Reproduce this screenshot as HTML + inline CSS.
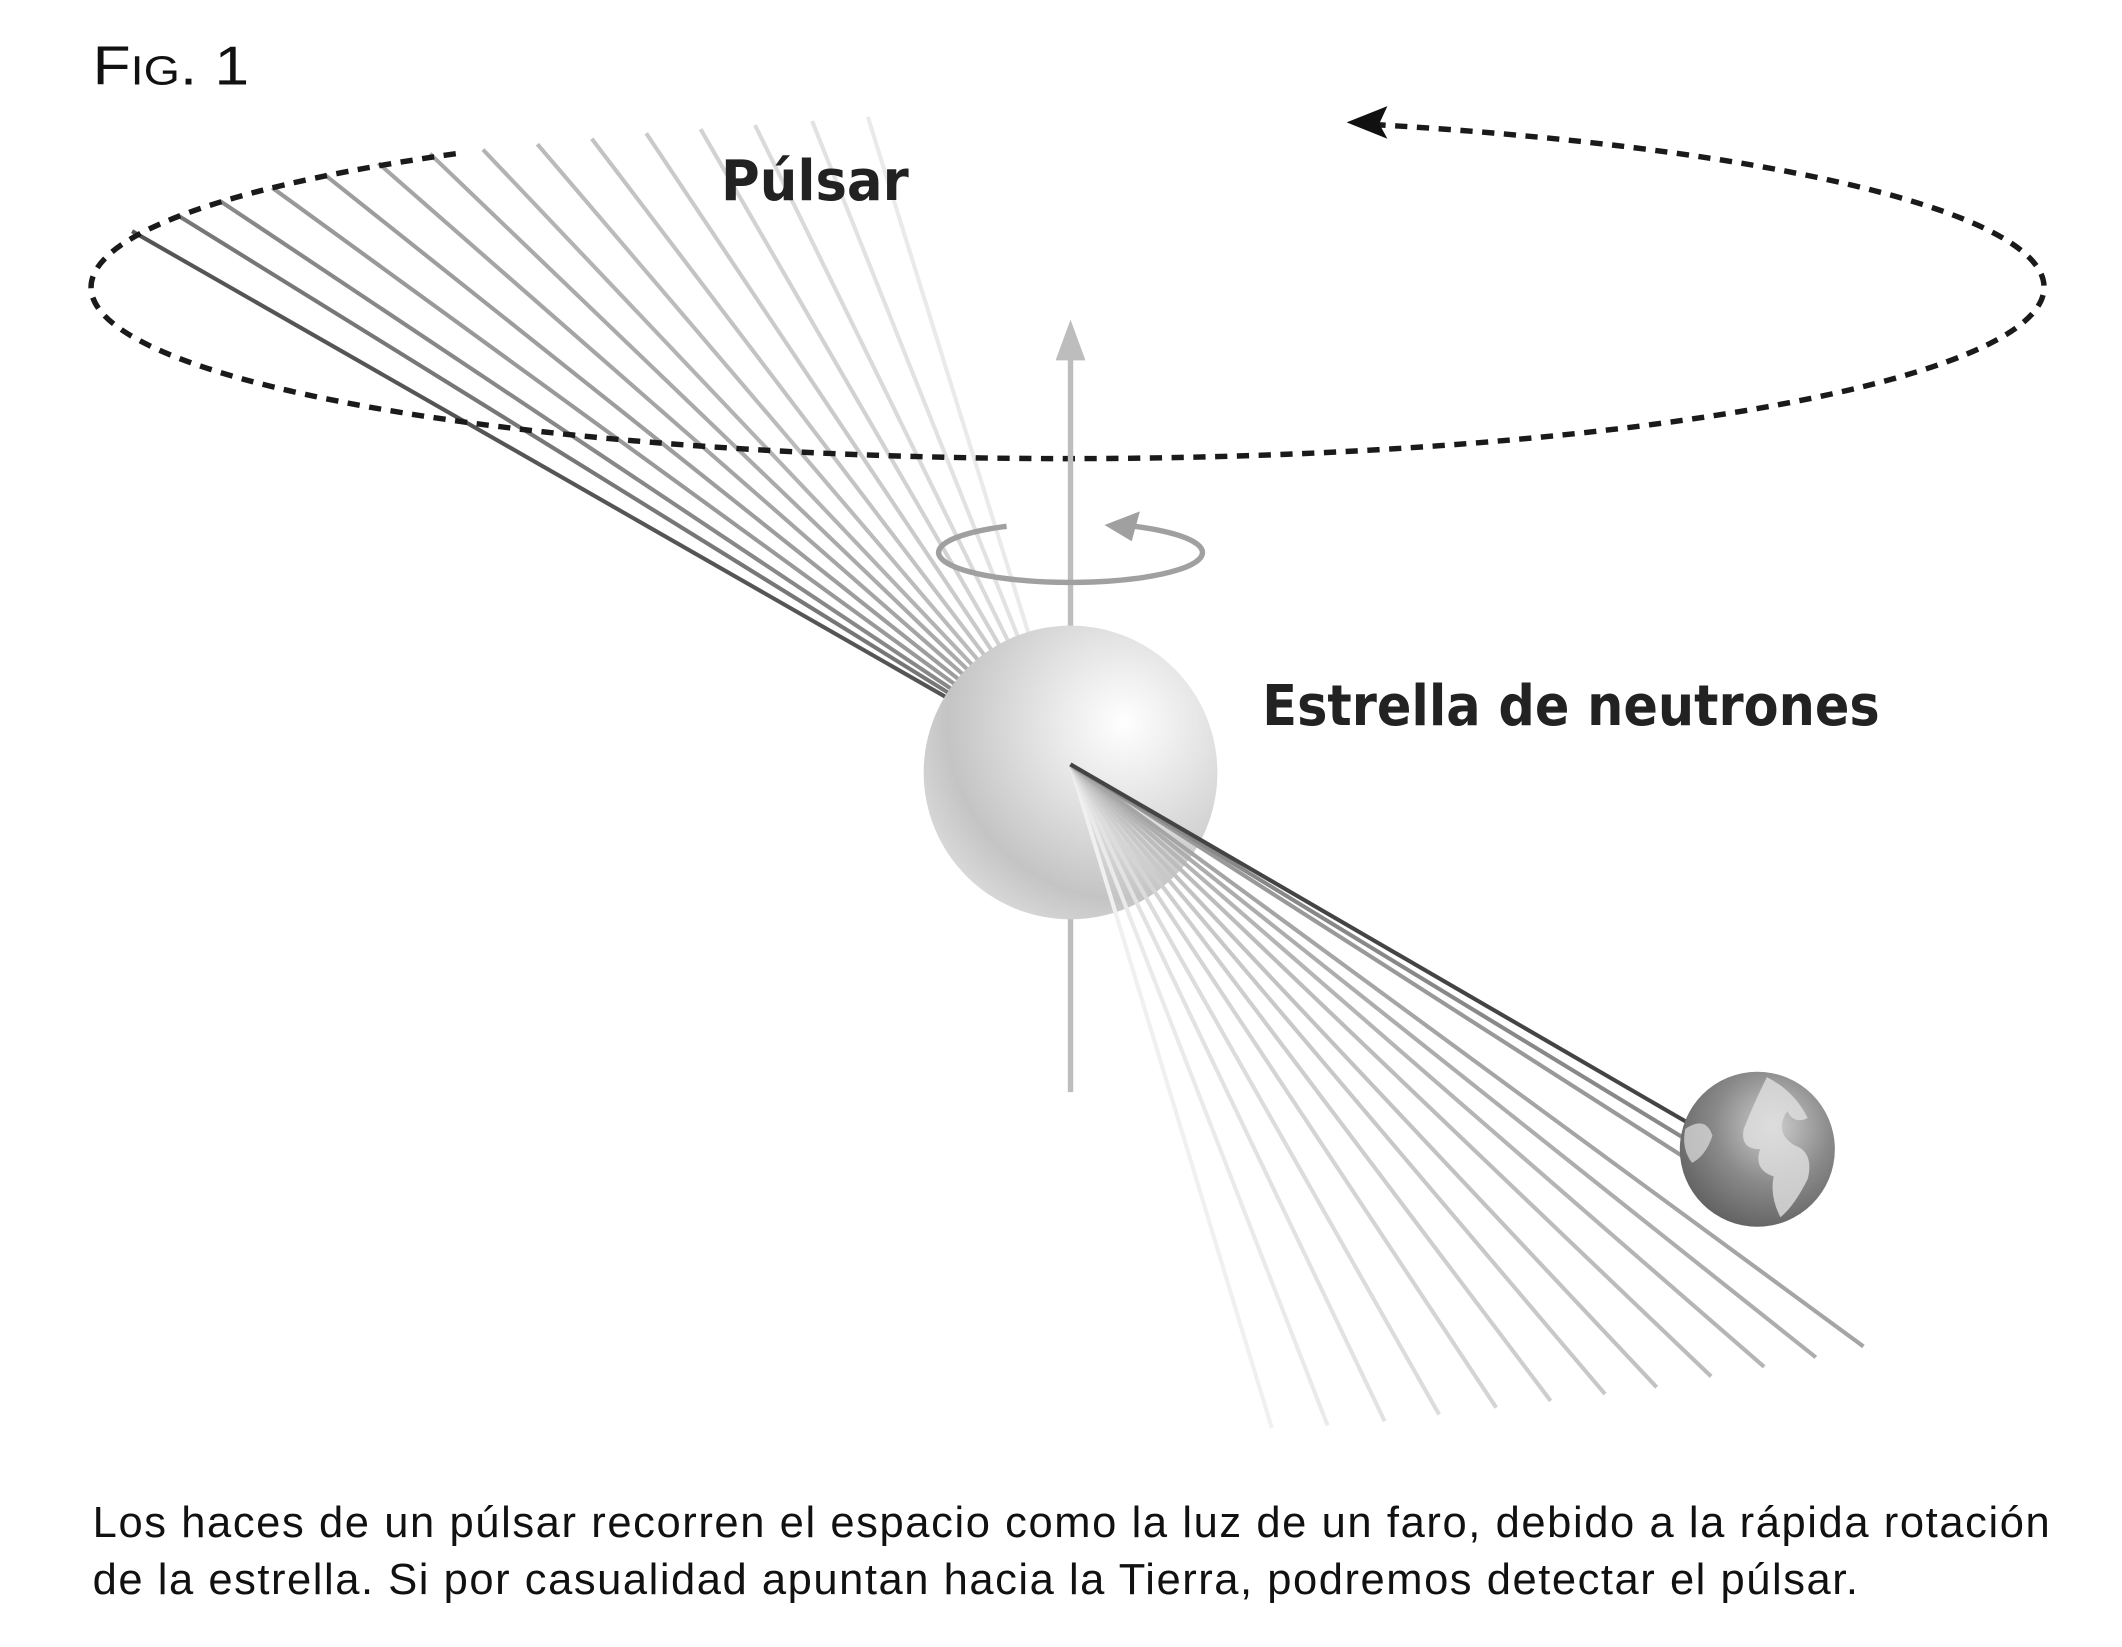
<!DOCTYPE html>
<html><head><meta charset="utf-8"><style>
html,body{margin:0;padding:0;background:#fff;}
svg{display:block;}
</style></head><body>
<svg width="2122" height="1647" viewBox="0 0 1560 1211" xmlns="http://www.w3.org/2000/svg">
<defs>
<radialGradient id="sph" cx="0.68" cy="0.33" r="0.75">
<stop offset="0" stop-color="#ffffff"/><stop offset="0.35" stop-color="#e6e6e6"/><stop offset="0.8" stop-color="#c4c4c4"/><stop offset="1" stop-color="#d8d8d8"/>
</radialGradient>
<radialGradient id="earth" cx="0.6" cy="0.35" r="0.75">
<stop offset="0" stop-color="#cfcfcf"/><stop offset="0.5" stop-color="#8a8a8a"/><stop offset="1" stop-color="#5a5a5a"/>
</radialGradient>
</defs>
<rect width="1560" height="1211" fill="#fff"/>
<text x="68" y="62" font-family="Liberation Sans, sans-serif" font-size="40" fill="#111" textLength="115" lengthAdjust="spacingAndGlyphs">F<tspan font-size="30">IG</tspan>. 1</text>

<g stroke-width="3">
<line x1="787" y1="565" x2="97" y2="170" stroke="#555"/>
<line x1="787" y1="565" x2="130" y2="158" stroke="#777"/>
<line x1="787" y1="565" x2="162" y2="148" stroke="#888"/>
<line x1="787" y1="565" x2="200" y2="138" stroke="#999"/>
<line x1="787" y1="565" x2="238" y2="128" stroke="#9d9d9d"/>
<line x1="787" y1="565" x2="278" y2="120" stroke="#a5a5a5"/>
<line x1="787" y1="565" x2="316" y2="113" stroke="#aaa"/>
<line x1="787" y1="565" x2="355" y2="110" stroke="#b3b3b3"/>
<line x1="787" y1="565" x2="395" y2="106" stroke="#bbb"/>
<line x1="787" y1="565" x2="435" y2="102" stroke="#c3c3c3"/>
<line x1="787" y1="565" x2="475" y2="98" stroke="#cacaca"/>
<line x1="787" y1="565" x2="515" y2="95" stroke="#d2d2d2"/>
<line x1="787" y1="565" x2="555" y2="92" stroke="#dadada"/>
<line x1="787" y1="565" x2="597" y2="89" stroke="#e2e2e2"/>
<line x1="787" y1="565" x2="638" y2="86" stroke="#eaeaea"/>
</g>

<path d="M 335 113 A 718 126 0 1 0 1000 91" fill="none" stroke="#1a1a1a" stroke-width="4" stroke-dasharray="9 7"/>
<polygon points="990,90 1020,78 1014,91 1020,102" fill="#111"/>

<line x1="787" y1="262" x2="787" y2="803" stroke="#bdbdbd" stroke-width="4"/>
<polygon points="787,235 776,265 798,265" fill="#bdbdbd"/>

<path d="M 740 387 A 97 22 0 1 0 825 386" fill="none" stroke="#a0a0a0" stroke-width="4"/>
<polygon points="812,386 838,376 832,398" fill="#a0a0a0"/>

<circle cx="787" cy="568" r="108" fill="url(#sph)"/>

<g stroke-width="3">
<line x1="787" y1="562" x2="935" y2="1050" stroke="#f0f0f0"/>
<line x1="787" y1="562" x2="976" y2="1048" stroke="#eaeaea"/>
<line x1="787" y1="562" x2="1018" y2="1045" stroke="#e2e2e2"/>
<line x1="787" y1="562" x2="1058" y2="1040" stroke="#dcdcdc"/>
<line x1="787" y1="562" x2="1100" y2="1035" stroke="#d4d4d4"/>
<line x1="787" y1="562" x2="1140" y2="1030" stroke="#cecece"/>
<line x1="787" y1="562" x2="1180" y2="1025" stroke="#c8c8c8"/>
<line x1="787" y1="562" x2="1218" y2="1020" stroke="#c2c2c2"/>
<line x1="787" y1="562" x2="1258" y2="1012" stroke="#bcbcbc"/>
<line x1="787" y1="562" x2="1297" y2="1005" stroke="#b5b5b5"/>
<line x1="787" y1="562" x2="1335" y2="998" stroke="#adadad"/>
<line x1="787" y1="562" x2="1370" y2="990" stroke="#a5a5a5"/>
<line x1="787" y1="562" x2="1240" y2="852" stroke="#999"/>
<line x1="787" y1="562" x2="1240" y2="838" stroke="#888"/>
<line x1="787" y1="562" x2="1240" y2="825" stroke="#444"/>
</g>

<circle cx="1292" cy="845" r="57" fill="url(#earth)"/>
<path d="M1299 792 q20 10 30 30 q-10 5 -15 -5 q-10 15 5 25 q15 5 10 25 q-10 20 -20 28 q-8 -15 -5 -30 q-15 -5 -10 -20 q-15 0 -12 -15 q8 -20 17 -38z" fill="#e0e0e0" opacity="0.8"/>
<path d="M1239 830 q15 -10 20 5 q-5 15 -15 20 q-8 -10 -5 -25z" fill="#e0e0e0" opacity="0.7"/>

<text x="530" y="147" font-family="DejaVu Sans Condensed, DejaVu Sans, sans-serif" font-weight="bold" font-size="41" fill="#222" textLength="138" lengthAdjust="spacingAndGlyphs">Púlsar</text>
<text x="928" y="533" font-family="DejaVu Sans Condensed, DejaVu Sans, sans-serif" font-weight="bold" font-size="41" fill="#222" textLength="454" lengthAdjust="spacingAndGlyphs">Estrella de neutrones</text>

<text font-family="Liberation Sans, sans-serif" font-size="32" fill="#111" lengthAdjust="spacingAndGlyphs">
<tspan x="68" y="1130" textLength="1439">Los haces de un púlsar recorren el espacio como la luz de un faro, debido a la rápida rotación</tspan>
<tspan x="68" y="1172" textLength="1298">de la estrella. Si por casualidad apuntan hacia la Tierra, podremos detectar el púlsar.</tspan>
</text>
</svg>
</body></html>
